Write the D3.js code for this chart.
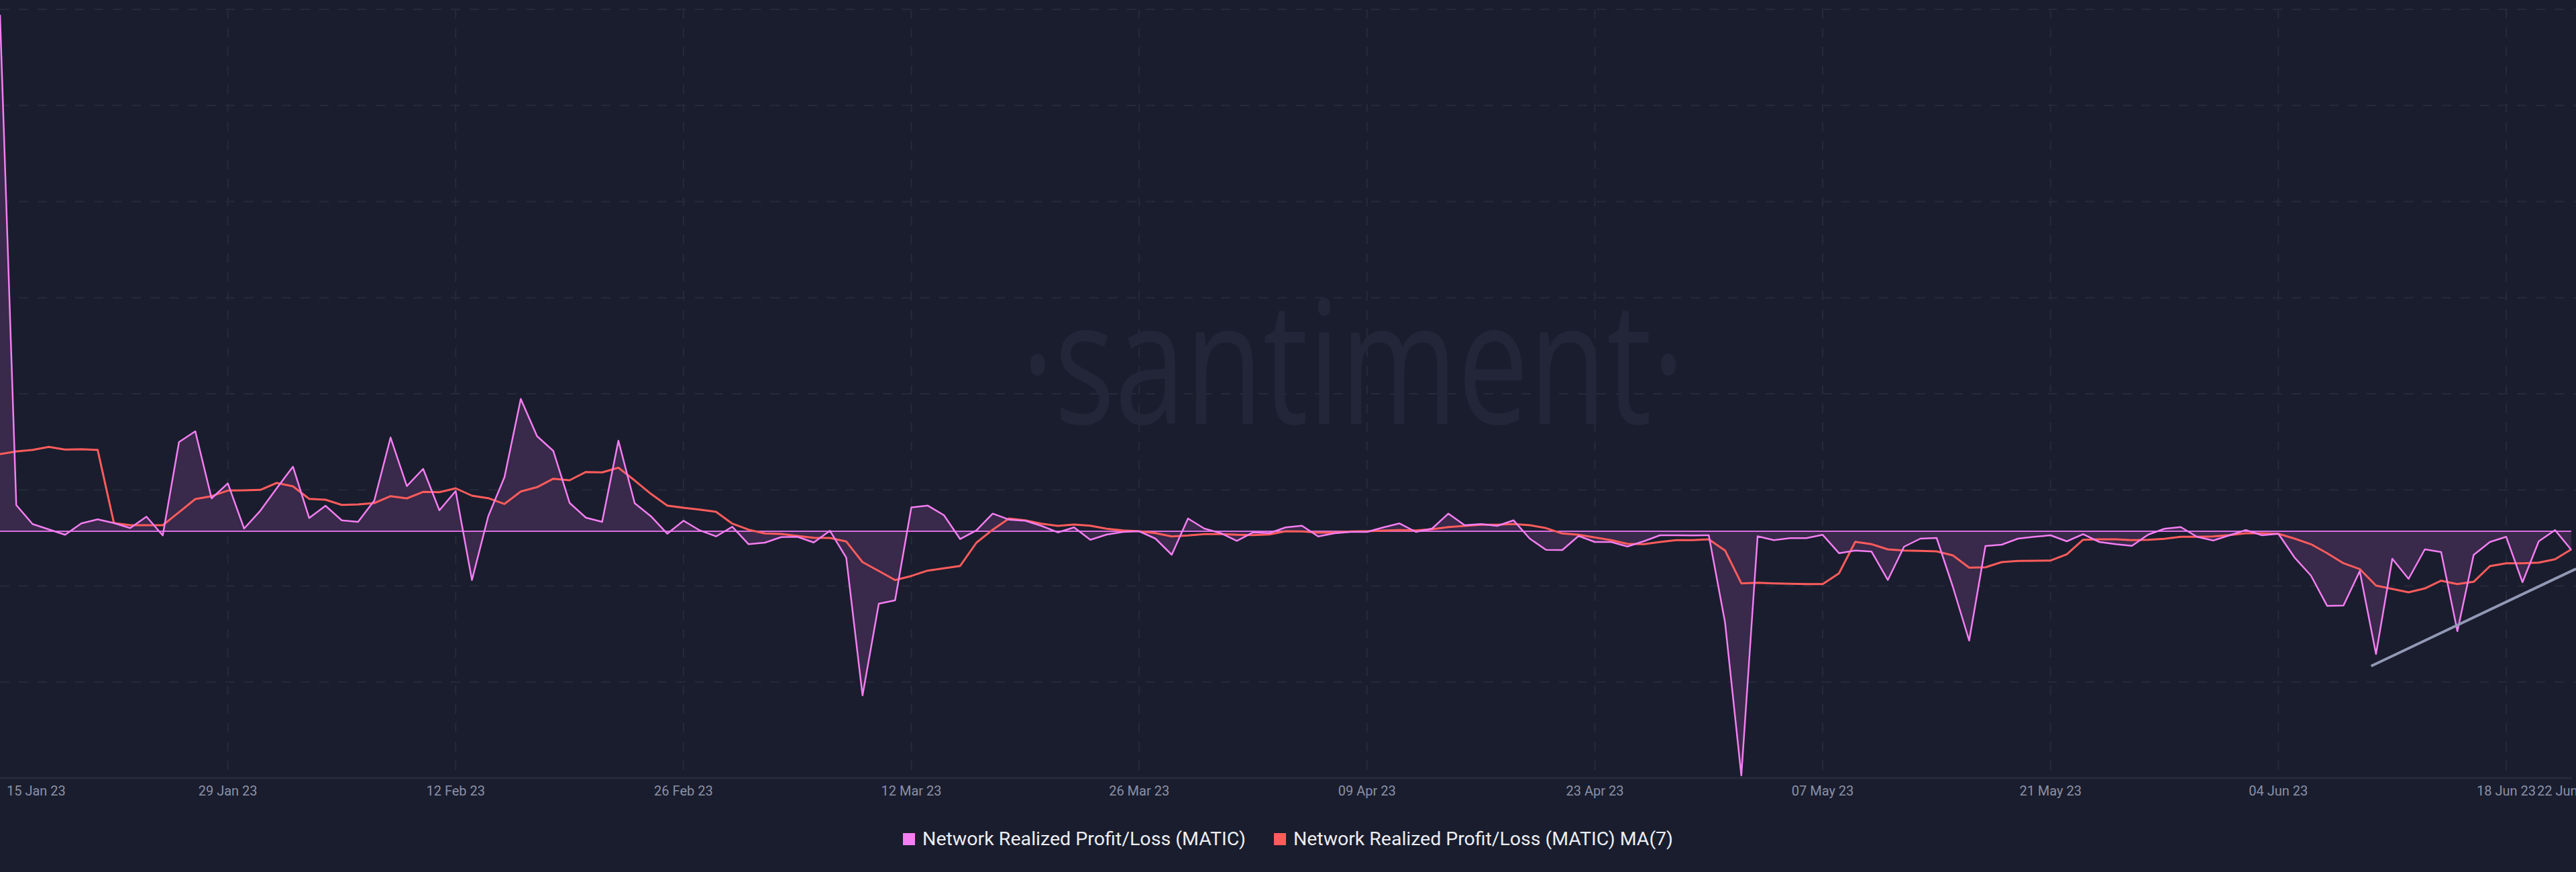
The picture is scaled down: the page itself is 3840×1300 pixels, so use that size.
<!DOCTYPE html>
<html>
<head>
<meta charset="utf-8">
<script src="https://cdn.jsdelivr.net/npm/d3@7"></script>
<style>
  html, body { margin: 0; padding: 0; background: #1a1d2d; }
  svg { display: block; }
</style>
</head>
<body>
<svg id="chart" width="3840" height="1300"></svg>
<script>
// ---- DATA (units arbitrary, approx. millions) ----
const startDate = "2023-01-15";
const endDate = "2023-06-22";

const seriesNames = ["Network Realized Profit/Loss (MATIC)", "Network Realized Profit/Loss (MATIC) MA(7)"];

const profitLoss = [
  77.0, 3.9, 1.07, 0.27, -0.53, 1.17, 1.77, 1.23, 0.47, 2.17,
  -0.63, 13.3, 14.9, 4.9, 7.13, 0.4, 3.07, 6.4, 9.63, 1.97,
  3.8, 1.63, 1.4, 4.57, 13.97, 6.73, 9.3, 3.13, 6.0, -7.27,
  2.23, 8.07, 19.73, 14.17, 11.97, 4.23, 2.03, 1.4, 13.5, 4.17,
  2.23, -0.37, 1.57, 0.13, -0.77, 0.67, -1.93, -1.7, -0.87, -0.83,
  -1.67, 0.07, -3.93, -24.47, -10.8, -10.3, 3.55, 3.83, 2.4, -1.17,
  0.13, 2.63, 1.73, 1.57, 0.8, -0.17, 0.57, -1.27, -0.5, -0.1,
  0.0, -1.1, -3.5, 1.9, 0.4, -0.27, -1.43, -0.17, -0.27, 0.57,
  0.83, -0.77, -0.3, -0.1, -0.1, 0.57, 1.17, -0.1, 0.4, 2.63,
  0.9, 1.07, 0.8, 1.63, -1.1, -2.77, -2.8, -0.7, -1.6, -1.6,
  -2.27, -1.5, -0.6, -0.6, -0.63, -0.6, -13.6, -36.4, -0.75, -1.33,
  -1.03, -1.03, -0.53, -3.27, -2.87, -3.03, -7.27, -2.3, -1.1, -1.0,
  -8.3, -16.3, -2.2, -2.0, -1.1, -0.83, -0.6, -1.5, -0.43, -1.6,
  -1.93, -2.17, -0.5, 0.37, 0.63, -0.83, -1.37, -0.6, 0.17, -0.6,
  -0.37, -3.93, -6.6, -11.13, -11.07, -5.95, -18.3, -4.1, -7.1, -2.7,
  -3.1, -14.9, -3.53, -1.6, -0.83, -7.6, -1.5, 0.17, -2.77
];

const profitLossMA7 = [
  11.5, 11.9, 12.13, 12.57, 12.17, 12.23, 12.13, 1.23, 0.9, 0.9,
  0.9, 2.83, 4.8, 5.23, 6.07, 6.1, 6.17, 7.2, 6.7, 4.83,
  4.7, 3.93, 4.0, 4.2, 5.23, 4.9, 5.87, 5.83, 6.4, 5.3,
  4.93, 4.07, 5.93, 6.57, 7.83, 7.6, 8.83, 8.77, 9.47, 7.57,
  5.57, 3.83, 3.5, 3.23, 2.9, 1.13, 0.23, -0.33, -0.4, -0.7,
  -0.97, -1.0, -1.53, -4.6, -5.93, -7.27, -6.67, -5.87, -5.53, -5.17,
  -1.7, 0.23, 1.9, 1.63, 1.13, 0.8, 1.0, 0.83, 0.37, 0.13,
  0.0, -0.27, -0.77, -0.63, -0.43, -0.43, -0.53, -0.57, -0.47, 0.0,
  -0.03, -0.2, -0.2, -0.03, 0.0, 0.1, 0.17, 0.13, 0.3, 0.63,
  0.8, 0.97, 0.97, 1.07, 0.9, 0.47, -0.33, -0.53, -0.93, -1.33,
  -1.87, -1.93, -1.6, -1.33, -1.33, -1.2, -2.87, -7.77, -7.67, -7.77,
  -7.83, -7.87, -7.87, -6.27, -1.57, -1.93, -2.7, -2.87, -2.93, -3.0,
  -3.6, -5.43, -5.37, -4.6, -4.43, -4.4, -4.37, -3.43, -1.27, -1.2,
  -1.2, -1.33, -1.27, -1.13, -0.83, -0.83, -0.77, -0.57, -0.3, -0.3,
  -0.37, -1.1, -1.93, -3.27, -4.77, -5.63, -8.1, -8.6, -9.1, -8.53,
  -7.37, -7.87, -7.53, -5.2, -4.77, -4.77, -4.67, -4.17, -2.7
];

const tickDates = [
  "2023-01-15", "2023-01-29", "2023-02-12", "2023-02-26", "2023-03-12", "2023-03-26",
  "2023-04-09", "2023-04-23", "2023-05-07", "2023-05-21", "2023-06-04", "2023-06-18", "2023-06-22"
];

// annotation trend line (grey), as [date, value]
const trendLine = [["2023-06-09T16:48:00Z", -20.1], ["2023-06-22T07:00:00Z", -5.6]];

// ---- CHART ----
const W = 3840, H = 1300;
const plotTop = 14, plotBottom = 1160, plotRight = 3833;
const colors = { bg: "#1a1d2d", grid: "#262a3b", pink: "#f47ef2", red: "#ff5c5c",
                 area: "#3b2a4c", zero: "#d96fe0", tick: "#8a91a7", trend: "#9299b5", mark: "#222638" };

const parse = d3.utcParse("%Y-%m-%d");
const dates = d3.utcDay.range(parse(startDate), d3.utcDay.offset(parse(endDate), 1));
const rows = dates.map((d, i) => ({ date: d, v: profitLoss[i], ma: profitLossMA7[i] }));

const svg = d3.select("#chart");
svg.append("rect").attr("width", W).attr("height", H).attr("fill", colors.bg);

const x = d3.scaleUtc().domain([dates[0], dates[dates.length - 1]]).range([0, plotRight]);
const allVals = profitLoss.concat(profitLossMA7);
const y = d3.scaleLinear().domain(d3.extent(allVals)).range([1156, 22]);

// horizontal grid (8 equal divisions of the plot area, no labels)
const hGrid = d3.range(0, 8).map(k => plotTop + k * (plotBottom - plotTop) / 8);
svg.append("g").selectAll("line").data(hGrid).join("line")
  .attr("x1", 0).attr("x2", W).attr("y1", d => d).attr("y2", d => d)
  .attr("stroke", colors.grid).attr("stroke-width", 2).attr("stroke-dasharray", "14,14");

// vertical grid at 14-day ticks
const tDates = tickDates.map(parse);
svg.append("g").selectAll("line").data(tDates.slice(1, -1)).join("line")
  .attr("x1", d => x(d)).attr("x2", d => x(d)).attr("y1", plotTop).attr("y2", plotBottom - 2)
  .attr("stroke", colors.grid).attr("stroke-width", 2).attr("stroke-dasharray", "14,14");

// watermark
svg.append("text")
  .attr("x", 2017).attr("y", 632).attr("text-anchor", "middle")
  .attr("font-family", "Open Sans").attr("font-weight", 400).attr("font-size", 255)
  .attr("textLength", 990).attr("lengthAdjust", "spacingAndGlyphs")
  .attr("fill", colors.mark).text("·santiment·");

// area
const area = d3.area().x(d => x(d.date)).y0(y(0)).y1(d => y(d.v));
svg.append("path").datum(rows).attr("d", area).attr("fill", colors.area).attr("fill-opacity", 0.95);

// zero line
svg.append("line").attr("x1", 0).attr("x2", plotRight).attr("y1", y(0)).attr("y2", y(0))
  .attr("stroke", colors.zero).attr("stroke-width", 2);

// MA line
svg.append("path").datum(rows)
  .attr("d", d3.line().x(d => x(d.date)).y(d => y(d.ma)))
  .attr("fill", "none").attr("stroke", colors.red).attr("stroke-width", 3).attr("stroke-linejoin", "round");

// main line
svg.append("path").datum(rows)
  .attr("d", d3.line().x(d => x(d.date)).y(d => y(d.v)))
  .attr("fill", "none").attr("stroke", colors.pink).attr("stroke-width", 2.5).attr("stroke-linejoin", "round");

// trend annotation
svg.append("path").datum(trendLine)
  .attr("d", d3.line().x(d => x(new Date(d[0]))).y(d => y(d[1])))
  .attr("stroke", colors.trend).attr("stroke-width", 4).attr("fill", "none");

// x axis line
svg.append("line").attr("x1", 0).attr("x2", plotRight + 1).attr("y1", plotBottom).attr("y2", plotBottom)
  .attr("stroke", colors.grid).attr("stroke-width", 3);

// tick labels
const fmt = d3.utcFormat("%d %b %y");
const nT = tDates.length;
svg.append("g").selectAll("text").data(tDates).join("text")
  .attr("x", (d, i) => i === 0 ? 10 : (i === nT - 1 ? 3782 : x(d)))
  .attr("y", 1186)
  .attr("text-anchor", (d, i) => (i === 0 || i === nT - 1) ? "start" : "middle")
  .attr("font-family", "Roboto").attr("font-size", 20).attr("fill", colors.tick)
  .text(d => fmt(d));

// legend
const legend = svg.append("g");
const legendColors = [colors.pink, colors.red];
const legendTextW = [482, 566];
let cx = 0;
seriesNames.forEach((name, i) => {
  const g = legend.append("g");
  g.append("rect").attr("x", 0).attr("y", -18).attr("width", 18).attr("height", 18).attr("fill", legendColors[i]);
  g.append("text").attr("x", 29).attr("y", 0)
    .attr("font-family", "Roboto").attr("font-size", 27).attr("fill", "#eceef3")
    .attr("textLength", legendTextW[i]).attr("lengthAdjust", "spacingAndGlyphs")
    .text(name);
  g.attr("transform", `translate(${cx},0)`);
  cx += 29 + legendTextW[i] + 42;
});
const totalW = cx - 42;
legend.attr("transform", `translate(${(W - totalW) / 2},1260)`);
</script>
</body>
</html>
